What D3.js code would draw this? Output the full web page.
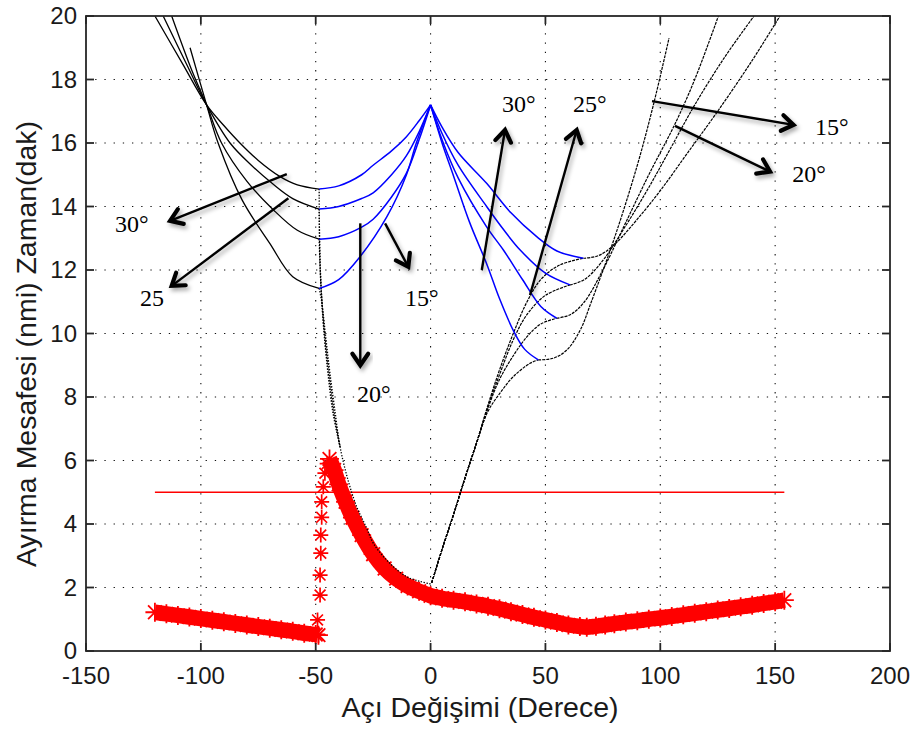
<!DOCTYPE html>
<html>
<head>
<meta charset="utf-8">
<script src="https://cdn.jsdelivr.net/npm/d3@7"></script>
<style>
  body { margin: 0; background: #fff; }
  svg { display: block; }
</style>
</head>
<body>
<svg id="chart" width="916" height="731"></svg>
<script>
// ---- axis ticks ----
const xTicks = [-150, -100, -50, 0, 50, 100, 150, 200];
const yTicks = [0, 2, 4, 6, 8, 10, 12, 14, 16, 18, 20];

// ---- separation distance (red asterisks) ----
const sepBand = [
  [-120, 1.22], [-115, 1.17], [-110, 1.12], [-105, 1.07], [-100, 1.02], [-95, 0.97],
  [-90, 0.92], [-85, 0.87], [-80, 0.82], [-75, 0.77], [-70, 0.72], [-65, 0.67],
  [-60, 0.62], [-55, 0.56], [-50, 0.52], [-48.8, 0.5]
];
const sepRise = [
  [-48.8, 0.5], [-49.2, 0.98], [-48.1, 1.76], [-48.1, 2.39], [-47.8, 3.08], [-47.8, 3.65],
  [-47.4, 4.21], [-47.4, 4.7], [-46.7, 5.17], [-46.0, 5.6], [-45.0, 5.9]
];
const sepFall = [
  [-44, 6.05], [-42, 5.7], [-40, 5.25], [-37, 4.7], [-34, 4.2], [-30, 3.65], [-25, 3.05],
  [-20, 2.6], [-15, 2.28], [-10, 2.05], [-5, 1.88], [0, 1.74], [5, 1.66], [10, 1.6],
  [15, 1.55], [20, 1.48], [25, 1.41], [30, 1.33], [35, 1.24], [40, 1.15], [45, 1.06],
  [50, 0.98], [55, 0.9], [60, 0.82], [65, 0.77], [68, 0.75], [72, 0.78], [76, 0.82],
  [80, 0.86], [85, 0.91], [90, 0.95], [95, 1.0], [100, 1.04], [105, 1.09], [110, 1.14],
  [115, 1.19], [120, 1.24], [125, 1.29], [130, 1.34], [135, 1.39], [140, 1.44],
  [145, 1.5], [150, 1.55], [154, 1.6]
];
const limitValue = 5;
const limitRange = [-120, 154];

// ---- time curves, left side (black descent, blue climb) ----
const westBlack1 = [[-120, 20], [-108, 18.5], [-97.5, 17.2], [-90, 16.55], [-83, 16.0], [-75, 15.45], [-65.5, 14.94], [-58, 14.68], [-48.5, 14.55]];
const westBlack2 = [[-116.4, 20], [-106, 18.45], [-97.5, 17.2], [-87.3, 16.0], [-78, 15.3], [-69, 14.73], [-60, 14.25], [-48.5, 13.92]];
const westBlack3 = [[-112.7, 20], [-104, 18.3], [-97.5, 17.2], [-91, 16.0], [-80, 14.8], [-68.5, 13.9], [-58, 13.25], [-48.5, 12.97]];
const westBlack4 = [[-104.7, 19.0], [-97.5, 17.2], [-92.5, 16.0], [-82, 14.2], [-70, 12.84], [-60, 11.79], [-48.5, 11.42]];

const westBlue1 = [[-48.5, 14.55], [-40, 14.65], [-30, 15.0], [-25, 15.3], [-17, 15.75], [-10.5, 16.2], [-5, 16.7], [0, 17.2]];
const westBlue2 = [[-48.5, 13.92], [-40, 14.0], [-30, 14.25], [-25, 14.43], [-17, 15.0], [-10.5, 15.6], [-5, 16.35], [0, 17.2]];
const westBlue3 = [[-48.5, 12.97], [-40, 13.05], [-30, 13.35], [-25, 13.6], [-17, 14.3], [-10.5, 15.05], [-5, 16.1], [0, 17.2]];
const westBlue4 = [[-48.5, 11.42], [-40, 11.7], [-30.7, 12.42], [-19, 13.68], [-10.5, 15.0], [-6.2, 16.0], [0, 17.2]];

// sparse dotted drops from the left minima down to the origin
const dropBranch1 = [[-48.5, 14.55], [-48.2, 12.5], [-47.0, 10.6], [-44.9, 8.9], [-42.5, 7.5], [-39.4, 6.43]];
const dropBranch2 = [[-48.5, 13.92], [-48.0, 12.0], [-46.6, 10.3], [-44.4, 8.7], [-42.0, 7.4], [-39.4, 6.43]];
const dropBranch3 = [[-48.5, 12.97], [-47.8, 11.6], [-46.2, 10.1], [-44.1, 8.75], [-41.8, 7.45], [-39.4, 6.43]];
const dropTail = [[-48.5, 11.42], [-47.4, 11.0], [-45.5, 9.8], [-43.8, 8.75], [-41.5, 7.5], [-39.4, 6.43], [-36, 5.4], [-32.2, 4.55], [-28, 3.9], [-24.9, 3.39], [-17.7, 2.76], [-10.4, 2.34], [-5, 2.2], [0, 2.11]];

// ---- time curves, right side ----
const eastBlue1 = [[0, 17.2], [5, 16.5], [12, 15.7], [24.4, 14.73], [35, 13.8], [46.2, 13.05], [55, 12.6], [66.5, 12.37]];
const eastBlue2 = [[0, 17.2], [5, 16.3], [12, 15.3], [24.4, 14.0], [32, 13.25], [39, 12.63], [50, 11.9], [60.7, 11.53]];
const eastBlue3 = [[0, 17.2], [5, 16.1], [12, 14.9], [24.4, 13.36], [31.7, 12.63], [40, 11.7], [48, 10.85], [54.9, 10.48]];
const eastBlue4 = [[0, 17.2], [5, 16.0], [10.1, 14.94], [17, 13.5], [24.4, 12.2], [30, 11.1], [36, 10.1], [41, 9.5], [46.9, 9.17]];

// climb from the origin to each right-hand minimum
const eastClimb1 = [[0.5, 2.15], [5, 3.2], [10, 4.3], [15, 5.45], [20, 6.55], [25, 7.75], [30, 8.85], [36, 10.0], [42, 11.0], [48, 11.7], [56, 12.15], [66.5, 12.37]];
const eastClimb2 = [[0.5, 2.15], [5, 3.2], [10, 4.3], [15, 5.45], [20, 6.55], [25, 7.7], [30, 8.7], [36, 9.8], [42, 10.6], [50, 11.2], [60.7, 11.53]];
const eastClimb3 = [[0.5, 2.15], [5, 3.2], [10, 4.3], [15, 5.45], [20, 6.55], [25, 7.65], [30, 8.55], [36, 9.3], [42, 9.9], [48, 10.3], [54.9, 10.48]];
const eastClimb4 = [[0.5, 2.15], [5, 3.2], [10, 4.3], [15, 5.45], [20, 6.55], [25, 7.55], [30.2, 8.12], [36, 8.64], [43.3, 9.06], [46.9, 9.17]];

// rise from each right-hand minimum towards the top
const eastRise1 = [[46.9, 9.17], [53.4, 9.22], [59.3, 9.48], [65.1, 10.1], [70, 11.0], [80, 13.0], [90, 15.3], [97, 17.2], [103.8, 19.3]];
const eastRise2 = [[54.9, 10.48], [61, 10.6], [67, 11.0], [75, 12.0], [85, 13.5], [95, 15.0], [106.4, 16.6], [115, 18.0], [125.3, 20]];
const eastRise3 = [[60.7, 11.53], [67, 11.7], [75, 12.3], [85, 13.4], [95, 14.6], [105, 15.9], [115, 17.2], [128, 18.7], [140.8, 20]];
const eastRise4 = [[66.5, 12.37], [73, 12.45], [80, 12.8], [90, 13.6], [100, 14.5], [112, 15.7], [125, 17.0], [140, 18.6], [152.1, 20]];

// ---- annotations ----
const arrowFrom = [[-62.6, 15.02], [-61.9, 14.26], [-30.6, 13.47], [-19.8, 13.47], [22.3, 12.0], [43.3, 11.21], [96.4, 17.32], [106.4, 16.54]];
const arrowTo   = [[-113.4, 13.55], [-112.7, 11.5], [-30.6, 9.0], [-9.7, 12.1], [32.4, 16.41], [63.6, 16.41], [158, 16.57], [147.8, 15.1]];
const noteText  = ["30°", "25", "20°", "15°", "30°", "25°", "15°", "20°"];
const notePos   = [[-137.4, 13.2], [-126.5, 10.87], [-32.0, 7.84], [-11.1, 10.87], [31.1, 16.98], [62.0, 16.98], [167.4, 16.25], [157.4, 14.77]];

// ---- drawing ----
const svg = d3.select("#chart");
const x = d3.scaleLinear().domain([-150, 200]).range([86, 890]);
const y = d3.scaleLinear().domain([0, 20]).range([651, 16]);
const [x0, x1] = x.range();
const [y0, y1] = y.range();

const defs = svg.append("defs");
defs.append("clipPath").attr("id", "plotClip")
  .append("rect").attr("x", x0).attr("y", y1).attr("width", x1 - x0).attr("height", y0 - y1);
const shadow = defs.append("filter").attr("id", "soft")
  .attr("x", "-30%").attr("y", "-30%").attr("width", "160%").attr("height", "160%");
shadow.append("feDropShadow").attr("dx", 2).attr("dy", 3).attr("stdDeviation", 2)
  .attr("flood-color", "#000").attr("flood-opacity", 0.35);

svg.append("rect").attr("width", 916).attr("height", 731).attr("fill", "#fff");

// dotted grid
const grid = svg.append("g").attr("stroke", "#111").attr("stroke-width", 1.1)
  .attr("stroke-dasharray", "1.3,7.9");
grid.selectAll(".gx").data(xTicks.slice(1, -1)).join("line")
  .attr("x1", d => x(d)).attr("x2", d => x(d)).attr("y1", y0).attr("y2", y1);
grid.selectAll(".gy").data(yTicks.slice(1, -1)).join("line")
  .attr("y1", d => y(d)).attr("y2", d => y(d)).attr("x1", x0).attr("x2", x1);

const plot = svg.append("g").attr("clip-path", "url(#plotClip)");
const line = d3.line().x(d => x(d[0])).y(d => y(d[1])).curve(d3.curveCatmullRom.alpha(0.5));

// red separation band drawn as dense asterisk markers
function asterisk(r) {
  const k = r * 0.72;
  return `M${-r},0L${r},0M0,${-r}L0,${r}M${-k},${-k}L${k},${k}M${-k},${k}L${k},${-k}`;
}
const red = plot.append("g");
[sepBand, sepFall].forEach(s => {
  red.append("path").attr("d", line(s)).attr("fill", "none")
    .attr("stroke", "#ff0000").attr("stroke-width", 15.5).attr("stroke-linejoin", "round");
});
red.selectAll(".bandStar").data(sepBand.concat(sepFall)).join("path")
  .attr("transform", d => `translate(${x(d[0])},${y(d[1])})`)
  .attr("d", asterisk(9.5)).attr("stroke", "#ff0000").attr("stroke-width", 1.8).attr("fill", "none");
red.selectAll(".riseStar").data(sepRise).join("path")
  .attr("transform", d => `translate(${x(d[0])},${y(d[1])})`)
  .attr("d", asterisk(7.5)).attr("stroke", "#ff0000").attr("stroke-width", 1.7).attr("fill", "none");

// limit line
plot.append("line")
  .attr("x1", x(limitRange[0])).attr("x2", x(limitRange[1]))
  .attr("y1", y(limitValue)).attr("y2", y(limitValue))
  .attr("stroke", "#ff0000").attr("stroke-width", 1.3);

// black dotted drops
[dropBranch1, dropBranch2, dropBranch3, dropTail].forEach(s => {
  plot.append("path").attr("d", line(s)).attr("fill", "none")
    .attr("stroke", "#000").attr("stroke-width", 1.3).attr("stroke-dasharray", "1.3,1.6");
});

// black time curves
[westBlack1, westBlack2, westBlack3, westBlack4].forEach(s => {
  plot.append("path").attr("d", line(s)).attr("fill", "none")
    .attr("stroke", "#000").attr("stroke-width", 1.3);
});
[eastClimb1, eastClimb2, eastClimb3, eastClimb4, eastRise1, eastRise2, eastRise3, eastRise4].forEach(s => {
  plot.append("path").attr("d", line(s)).attr("fill", "none")
    .attr("stroke", "#000").attr("stroke-width", 1.2).attr("stroke-dasharray", "3,1");
});

// blue time curves
[westBlue1, westBlue2, westBlue3, westBlue4, eastBlue1, eastBlue2, eastBlue3, eastBlue4].forEach(s => {
  plot.append("path").attr("d", line(s)).attr("fill", "none")
    .attr("stroke", "#0000ff").attr("stroke-width", 1.5);
});

// axes box and inward ticks
const axis = svg.append("g").attr("stroke", "#262626").attr("stroke-width", 1.8);
axis.append("rect").attr("x", x0).attr("y", y1).attr("width", x1 - x0).attr("height", y0 - y1)
  .attr("fill", "none");
const tl = 8;
xTicks.forEach(t => {
  axis.append("line").attr("x1", x(t)).attr("x2", x(t)).attr("y1", y0).attr("y2", y0 - tl);
  axis.append("line").attr("x1", x(t)).attr("x2", x(t)).attr("y1", y1).attr("y2", y1 + tl);
});
yTicks.forEach(t => {
  axis.append("line").attr("y1", y(t)).attr("y2", y(t)).attr("x1", x0).attr("x2", x0 + tl);
  axis.append("line").attr("y1", y(t)).attr("y2", y(t)).attr("x1", x1).attr("x2", x1 - tl);
});

const sans = "'Liberation Sans', Arial, Helvetica, sans-serif";
svg.append("g").selectAll("text").data(xTicks).join("text")
  .attr("x", d => x(d)).attr("y", 684).attr("text-anchor", "middle")
  .attr("font-family", sans).attr("font-size", 24).attr("fill", "#1a1a1a")
  .text(d => d);
svg.append("g").selectAll("text").data(yTicks).join("text")
  .attr("x", 77).attr("y", d => y(d) + 8).attr("text-anchor", "end")
  .attr("font-family", sans).attr("font-size", 24).attr("fill", "#1a1a1a")
  .text(d => d);

svg.append("text").attr("x", 480).attr("y", 717).attr("text-anchor", "middle")
  .attr("font-family", sans).attr("font-size", 28.5).attr("fill", "#1a1a1a")
  .text("Açı Değişimi (Derece)");
svg.append("text").attr("transform", "translate(36,344) rotate(-90)").attr("text-anchor", "middle")
  .attr("font-family", sans).attr("font-size", 28.5).attr("fill", "#1a1a1a")
  .text("Ayırma Mesafesi (nmi) Zaman(dak)");

// annotation arrows
const notes = svg.append("g");
arrowFrom.forEach((f, i) => {
  const t = arrowTo[i];
  const ax = x(f[0]), ay = y(f[1]), bx = x(t[0]), by = y(t[1]);
  const ang = Math.atan2(by - ay, bx - ax);
  const len = 14, spread = 0.6;
  const h1 = [bx - len * Math.cos(ang - spread), by - len * Math.sin(ang - spread)];
  const h2 = [bx - len * Math.cos(ang + spread), by - len * Math.sin(ang + spread)];
  const g = notes.append("g").attr("filter", "url(#soft)");
  g.append("line").attr("x1", ax).attr("y1", ay).attr("x2", bx).attr("y2", by)
    .attr("stroke", "#000").attr("stroke-width", 2.4);
  g.append("path").attr("d", `M${h1[0]},${h1[1]}L${bx},${by}L${h2[0]},${h2[1]}`)
    .attr("fill", "none").attr("stroke", "#000").attr("stroke-width", 4.2)
    .attr("stroke-linejoin", "miter").attr("stroke-linecap", "round");
});
notes.selectAll("text").data(noteText).join("text")
  .attr("x", (d, i) => x(notePos[i][0])).attr("y", (d, i) => y(notePos[i][1]))
  .attr("font-family", "'Liberation Serif', 'Times New Roman', serif").attr("font-size", 24)
  .attr("fill", "#000").text(d => d);
</script>
</body>
</html>
